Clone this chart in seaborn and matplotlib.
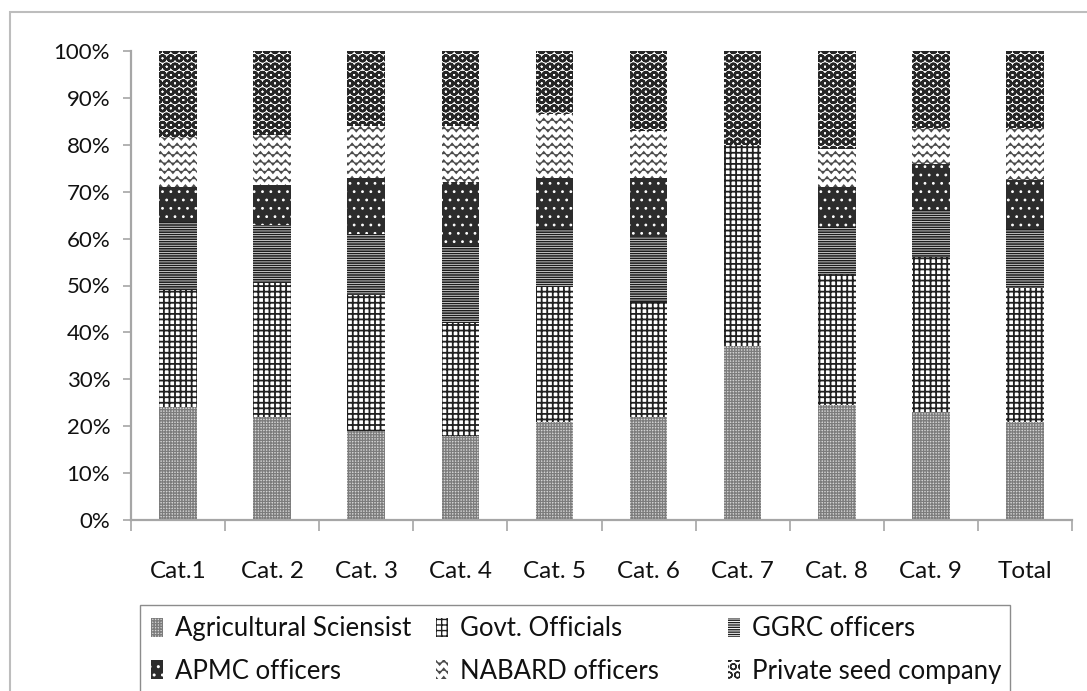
import numpy as np
import pandas as pd
import matplotlib
matplotlib.use("Agg")
import matplotlib.pyplot as plt
import matplotlib.hatch as mhatch
from matplotlib.path import Path
from matplotlib.patches import Rectangle
import seaborn as sns

# ---- data (percent share of each respondent group) ----
categories = ["Cat.1", "Cat. 2", "Cat. 3", "Cat. 4", "Cat. 5",
              "Cat. 6", "Cat. 7", "Cat. 8", "Cat. 9", "Total"]
agri_scientist = [24.0, 22.0, 19.0, 18.0, 21.0, 22.0, 37.0, 24.5, 23.0, 21.0]
govt_officials = [25.0, 28.5, 29.0, 24.0, 29.0, 24.5, 43.0, 28.0, 33.0, 28.5]
ggrc_officers = [14.5, 12.5, 13.0, 16.5, 12.0, 14.0, 0.0, 10.0, 10.0, 12.5]
apmc_officers = [7.5, 8.5, 12.0, 13.5, 11.0, 12.5, 0.0, 8.5, 10.0, 10.5]
nabard_officers = [10.5, 10.5, 11.0, 12.0, 13.5, 10.0, 0.0, 8.0, 7.5, 11.0]
private_seed = [18.5, 18.0, 16.0, 16.0, 13.5, 17.0, 20.0, 21.0, 16.5, 16.5]
series_names = ["Agricultural Sciensist", "Govt. Officials", "GGRC officers",
                "APMC officers", "NABARD officers", "Private seed company"]
y_ticks = [0, 10, 20, 30, 40, 50, 60, 70, 80, 90, 100]


# ---- a wavy-line hatch ('~') for the NABARD segments ----
class WaveHatch(mhatch.HatchPatternBase):
    def __init__(self, hatch, density):
        self.num_lines = int(hatch.count("~") * density)
        self.num_seg = 48
        self.num_vertices = self.num_lines * (self.num_seg + 1)

    def set_vertices_and_codes(self, vertices, codes):
        if self.num_lines == 0:
            return
        xs = np.linspace(0.0, 1.0, self.num_seg + 1)
        amp = 0.3 / self.num_lines
        wave = amp * np.sin(xs * 2 * np.pi * self.num_lines)
        n = self.num_seg + 1
        for i in range(self.num_lines):
            y0 = (i + 0.5) / self.num_lines
            vertices[i * n:(i + 1) * n, 0] = xs
            vertices[i * n:(i + 1) * n, 1] = y0 + wave
            codes[i * n] = Path.MOVETO
            codes[i * n + 1:(i + 1) * n] = Path.LINETO


if WaveHatch not in mhatch._hatch_types:
    mhatch._hatch_types.append(WaveHatch)

df = pd.DataFrame({
    "category": categories,
    series_names[0]: agri_scientist,
    series_names[1]: govt_officials,
    series_names[2]: ggrc_officers,
    series_names[3]: apmc_officers,
    series_names[4]: nabard_officers,
    series_names[5]: private_seed,
})
# running totals so each segment can be drawn as a bar from zero
cum = df[series_names].cumsum(axis=1)
cum.insert(0, "category", df["category"])

styles = {
    "Agricultural Sciensist": dict(facecolor="#d4d4d4", hatch="++++++", edgecolor="#7c7c7c", hlw=0.9),
    "Govt. Officials": dict(facecolor="#ffffff", hatch="+++", edgecolor="#202020", hlw=1.3),
    "GGRC officers": dict(facecolor="#ffffff", hatch="-------", edgecolor="#1e1e1e", hlw=1.2),
    "APMC officers": dict(facecolor="#2c2c2c", hatch="..", edgecolor="#ffffff", hlw=0.8),
    "NABARD officers": dict(facecolor="#ffffff", hatch="~~", edgecolor="#4a4a4a", hlw=0.9),
    "Private seed company": dict(facecolor="#ffffff", hatch="OO", edgecolor="#262626", hlw=1.8),
}

sns.set_style("white")
plt.rcParams["font.family"] = ["Lato", "DejaVu Sans"]

fig = plt.figure(figsize=(10.87, 6.91), dpi=100)
ax = fig.add_axes([131 / 1087, 1 - 520 / 691, 941 / 1087, 469 / 691])

handles = {}
# draw the tallest (topmost) layer first so lower layers paint over it
for name in reversed(series_names):
    st = styles[name]
    n_before = len(ax.patches)
    sns.barplot(data=cum, x="category", y=name, order=categories,
                color=st["facecolor"], saturation=1, width=0.4,
                errorbar=None, hatch=st["hatch"], edgecolor=st["edgecolor"],
                linewidth=0, ax=ax)
    new = ax.patches[n_before:]
    for p in new:
        p.set_facecolor(st["facecolor"])
        if hasattr(p, "set_hatch_linewidth"):
            p.set_hatch_linewidth(st["hlw"])
    handles[name] = new[0]

ax.set_ylim(0, 100)
ax.set_xlim(-0.5, len(categories) - 0.5)
ax.set_xlabel("")
ax.set_ylabel("")
ax.set_yticks(y_ticks)
ax.set_yticklabels([f"{v}%" for v in y_ticks])

axis_grey = "#a6a6a6"
for side in ("top", "right"):
    ax.spines[side].set_visible(False)
for side in ("left", "bottom"):
    ax.spines[side].set_color(axis_grey)
    ax.spines[side].set_linewidth(1.6)

ax.tick_params(axis="y", which="major", left=True, length=6, width=1.2,
               color=axis_grey, labelsize=16, pad=9, labelcolor="#111111")
ax.tick_params(axis="x", which="major", bottom=False, labelsize=17.5,
               pad=26, labelcolor="#111111")
ax.set_xticks(np.arange(-0.5, len(categories) + 0.5, 1.0), minor=True)
ax.tick_params(axis="x", which="minor", bottom=True, length=8, width=1.2,
               color=axis_grey)

# legend: three equal-width columns inside a single frame
col_x = [151 / 1087, 436 / 1087, 728 / 1087]
columns = [["Agricultural Sciensist", "APMC officers"],
           ["Govt. Officials", "NABARD officers"],
           ["GGRC officers", "Private seed company"]]
for x0, names in zip(col_x, columns):
    fig.legend([handles[n] for n in names], names, loc="center left",
               bbox_to_anchor=(x0, 1 - 650 / 691), frameon=False,
               fontsize=18.5, handlelength=0.45, handleheight=0.75,
               handletextpad=0.5, labelspacing=0.68, borderpad=0,
               borderaxespad=0, labelcolor="#111111")

fig.add_artist(Rectangle((140 / 1087, 1 - 760 / 691), (1010 - 140) / 1087,
                         155 / 691, transform=fig.transFigure, fill=False,
                         edgecolor="#8c8c8c", linewidth=1.0, clip_on=False))
# outer chart-area border
fig.add_artist(Rectangle((10 / 1087, -0.2), 1.2, 1.2 - 12 / 691,
                         transform=fig.transFigure, fill=False,
                         edgecolor="#bdbdbd", linewidth=1.5, clip_on=False))

fig.savefig("out.png", dpi=100)
